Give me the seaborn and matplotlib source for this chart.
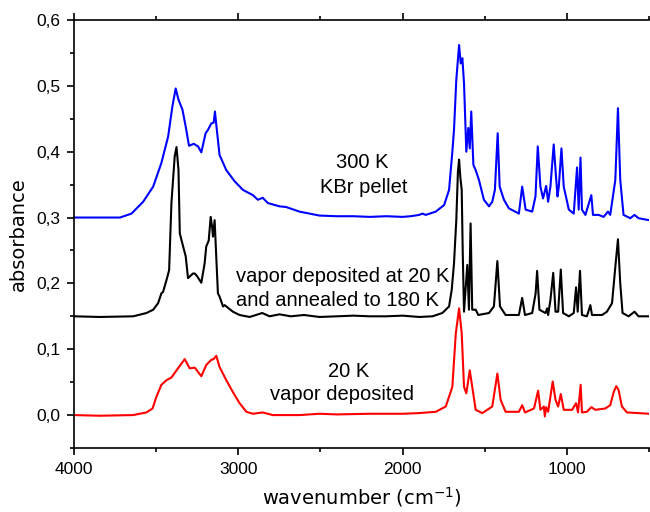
import matplotlib
matplotlib.use("Agg")
import matplotlib.pyplot as plt
import seaborn as sns
import pandas as pd
from matplotlib.ticker import MultipleLocator, FuncFormatter

# ---- data: (wavenumber cm^-1, absorbance) ----
blue_300K = [
    (4000, 0.300), (3840, 0.300), (3720, 0.300), (3650, 0.306), (3579, 0.324), (3518, 0.347),
    (3468, 0.383), (3427, 0.423), (3401, 0.469), (3381, 0.496), (3364, 0.479), (3340, 0.464),
    (3320, 0.438), (3300, 0.409), (3271, 0.412), (3245, 0.408), (3225, 0.399), (3199, 0.428),
    (3185, 0.433), (3164, 0.443), (3150, 0.444), (3142, 0.461), (3134, 0.441), (3114, 0.395),
    (3073, 0.372), (3022, 0.355), (2972, 0.342), (2911, 0.334), (2881, 0.327), (2851, 0.330),
    (2820, 0.322), (2749, 0.317), (2709, 0.316), (2628, 0.309), (2506, 0.303), (2400, 0.302),
    (2300, 0.302), (2200, 0.301), (2100, 0.302), (2000, 0.301), (1950, 0.302), (1899, 0.304),
    (1879, 0.306), (1859, 0.304), (1798, 0.309), (1747, 0.319), (1717, 0.342), (1697, 0.400),
    (1687, 0.433), (1673, 0.509), (1656, 0.562), (1646, 0.534), (1636, 0.542), (1626, 0.504),
    (1612, 0.400), (1600, 0.436), (1591, 0.405), (1582, 0.461), (1569, 0.380), (1555, 0.372),
    (1535, 0.357), (1505, 0.327), (1474, 0.317), (1454, 0.324), (1438, 0.342), (1421, 0.428),
    (1409, 0.347), (1383, 0.327), (1353, 0.314), (1292, 0.306), (1272, 0.347), (1251, 0.312),
    (1211, 0.309), (1191, 0.332), (1177, 0.408), (1161, 0.347), (1145, 0.329), (1126, 0.348),
    (1114, 0.324), (1100, 0.347), (1080, 0.411), (1069, 0.372), (1057, 0.332), (1049, 0.347),
    (1033, 0.405), (1019, 0.347), (988, 0.312), (958, 0.306), (938, 0.376), (928, 0.312),
    (917, 0.391), (908, 0.312), (887, 0.304), (851, 0.334), (841, 0.304), (806, 0.304),
    (776, 0.301), (750, 0.309), (736, 0.304), (705, 0.357), (689, 0.466), (675, 0.357),
    (655, 0.304), (614, 0.299), (588, 0.304), (564, 0.299), (500, 0.296),
]

black_annealed = [
    (4000, 0.150), (3842, 0.149), (3640, 0.150), (3559, 0.155), (3518, 0.160), (3488, 0.170),
    (3468, 0.185), (3458, 0.187), (3437, 0.205), (3421, 0.220), (3407, 0.322), (3387, 0.393),
    (3376, 0.407), (3364, 0.372), (3356, 0.276), (3346, 0.266), (3320, 0.241), (3306, 0.208),
    (3276, 0.215), (3265, 0.215), (3251, 0.211), (3225, 0.201), (3205, 0.230), (3195, 0.256),
    (3180, 0.265), (3168, 0.301), (3159, 0.285), (3154, 0.271), (3144, 0.296), (3134, 0.240),
    (3124, 0.185), (3114, 0.180), (3093, 0.165), (3083, 0.167), (3033, 0.157), (2992, 0.152),
    (2931, 0.149), (2854, 0.155), (2810, 0.150), (2749, 0.153), (2680, 0.150), (2600, 0.152),
    (2506, 0.149), (2400, 0.150), (2300, 0.151), (2200, 0.150), (2100, 0.150), (2000, 0.151),
    (1899, 0.149), (1818, 0.150), (1758, 0.155), (1717, 0.165), (1701, 0.190), (1687, 0.230),
    (1673, 0.296), (1663, 0.370), (1656, 0.388), (1648, 0.360), (1640, 0.342), (1634, 0.250),
    (1626, 0.157), (1606, 0.228), (1596, 0.160), (1586, 0.291), (1576, 0.160), (1555, 0.160),
    (1539, 0.152), (1474, 0.155), (1444, 0.165), (1423, 0.234), (1407, 0.165), (1373, 0.152),
    (1292, 0.152), (1272, 0.178), (1255, 0.152), (1211, 0.155), (1190, 0.185), (1181, 0.219),
    (1167, 0.160), (1130, 0.155), (1120, 0.162), (1114, 0.152), (1100, 0.175), (1083, 0.216),
    (1069, 0.157), (1053, 0.157), (1037, 0.221), (1023, 0.155), (988, 0.150), (958, 0.155),
    (944, 0.194), (934, 0.157), (920, 0.219), (908, 0.152), (878, 0.150), (857, 0.167),
    (847, 0.152), (786, 0.152), (756, 0.157), (725, 0.170), (705, 0.225), (689, 0.267),
    (675, 0.200), (661, 0.155), (624, 0.150), (588, 0.157), (564, 0.150), (500, 0.150),
]

red_20K = [
    (4000, 0.000), (3842, -0.001), (3640, 0.000), (3559, 0.004), (3522, 0.010), (3498, 0.028),
    (3468, 0.046), (3437, 0.053), (3407, 0.057), (3367, 0.071), (3326, 0.085), (3296, 0.071),
    (3265, 0.072), (3225, 0.059), (3195, 0.076), (3164, 0.084), (3150, 0.085), (3134, 0.090),
    (3114, 0.073), (3073, 0.053), (3033, 0.035), (2992, 0.018), (2951, 0.005), (2911, 0.002),
    (2851, 0.004), (2790, 0.000), (2628, 0.000), (2506, 0.002), (2400, 0.001), (2200, 0.002),
    (2000, 0.002), (1899, 0.003), (1798, 0.005), (1737, 0.013), (1697, 0.043), (1676, 0.124),
    (1656, 0.162), (1640, 0.124), (1626, 0.043), (1612, 0.033), (1591, 0.068), (1576, 0.043),
    (1555, 0.008), (1515, 0.003), (1454, 0.013), (1423, 0.063), (1403, 0.023), (1373, 0.005),
    (1292, 0.005), (1272, 0.015), (1255, 0.004), (1200, 0.010), (1175, 0.037), (1161, 0.008),
    (1140, 0.013), (1134, -0.002), (1126, 0.012), (1114, 0.005), (1086, 0.051), (1069, 0.023),
    (1053, 0.013), (1037, 0.032), (1019, 0.008), (968, 0.008), (944, 0.018), (932, 0.004),
    (916, 0.046), (908, 0.004), (878, 0.005), (851, 0.012), (827, 0.008), (766, 0.010),
    (736, 0.015), (715, 0.035), (699, 0.044), (685, 0.038), (665, 0.013), (634, 0.004),
    (564, 0.003), (500, 0.002),
]

x_ticks = [4000, 3000, 2000, 1000]
y_ticks = [0.0, 0.1, 0.2, 0.3, 0.4, 0.5, 0.6]

# ---- style ----
sns.set_theme(style="ticks")
plt.rcParams["font.family"] = ["Liberation Sans", "DejaVu Sans"]

fig = plt.figure(figsize=(6.5, 5.12), dpi=100)
ax = fig.add_axes([74 / 650, 64 / 512, 575 / 650, 428 / 512])

for series, color in [(blue_300K, "#0000FF"), (black_annealed, "#000000"), (red_20K, "#FF0000")]:
    df = pd.DataFrame(series, columns=["wavenumber", "absorbance"])
    sns.lineplot(data=df, x="wavenumber", y="absorbance", color=color, lw=1.5,
                 estimator=None, sort=False, ax=ax)

ax.set_xlim(4000, 500)
ax.set_ylim(-0.05, 0.6)
ax.set_xticks(x_ticks)
ax.set_yticks(y_ticks)
ax.xaxis.set_minor_locator(MultipleLocator(500))
ax.yaxis.set_minor_locator(MultipleLocator(0.05))
ax.yaxis.set_major_formatter(FuncFormatter(lambda v, p: f"{v:.1f}".replace(".", ",")))

for side in ["left", "bottom", "top"]:
    ax.spines[side].set_linewidth(1.2)
    ax.spines[side].set_color("black")
ax.spines["right"].set_visible(False)

ax.tick_params(axis="both", which="major", direction="out", length=5, width=1.2,
               labelsize=12.5, colors="black", pad=5)
ax.tick_params(axis="both", which="minor", direction="out", length=3, width=1.2, colors="black")
ax.tick_params(axis="x", which="both", top=True, labeltop=False)
ax.tick_params(axis="y", which="both", right=False)

ax.set_xlabel("wavenumber (cm$^{-1}$)", fontsize=14, family="DejaVu Sans", labelpad=6,
              color="black")
ax.set_ylabel("absorbance", fontsize=14, family="DejaVu Sans", labelpad=6, color="black")

txt = dict(fontsize=14.5, color="black", ha="left", va="baseline")
ax.text(2403, 0.375, "300 K", **txt)
ax.text(2500, 0.337, "KBr pellet", **txt)
ax.text(3016, 0.202, "vapor deposited at 20 K", **txt)
ax.text(3016, 0.166, "and annealed to 180 K", **txt)
ax.text(2452, 0.058, "20 K", **txt)
ax.text(2810, 0.023, "vapor deposited", **txt)

fig.savefig("out.png", dpi=100, facecolor="white")
